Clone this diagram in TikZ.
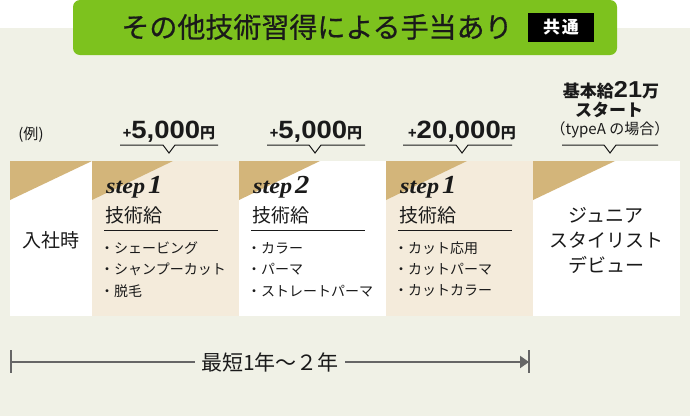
\documentclass[tikz,border=0pt]{standalone}
\usepackage{fontspec}
\setmainfont{Noto Sans CJK JP}
\newfontfamily\numfont[FakeStretch=1.1]{Liberation Sans}
\newfontfamily\stepfont[FakeStretch=1.1]{Liberation Serif}
\newfontfamily\titlefont[FakeBold=0.6]{Noto Sans CJK JP}
\usetikzlibrary{arrows.meta}
\definecolor{bgcol}{HTML}{F0F1E6}
\definecolor{leaf}{HTML}{7DC21E}
\definecolor{sand}{HTML}{D3B57A}
\definecolor{cream}{HTML}{F4EBDB}
\definecolor{ink}{HTML}{1A1A1A}
\definecolor{slate}{HTML}{666666}
\tikzset{
    panel/.style={rectangle, anchor=north west, inner sep=0pt, outer sep=0pt, minimum height=155pt},
    wedge/.style={fill=sand},
    head/.style={inner sep=0pt, text=ink, font=\fontsize{19}{19}\selectfont},
    item/.style={inner sep=0pt, anchor=west, text=ink, font=\fontsize{14}{14}\selectfont},
    steplabel/.style={inner sep=0pt, anchor=base west, text=ink},
    amount/.style={inner sep=0pt, anchor=base, text=ink},
    rule/.style={draw=ink, line width=1pt},
    timeline/.style={draw=slate, line width=2pt},
    tick/.style={draw=slate, line width=1.5pt},
}
\newcommand{\stepmark}[1]{{\stepfont\bfseries\itshape\fontsize{22}{22}\selectfont step\hspace{3pt}\fontsize{26}{26}\selectfont #1}}
\newcommand{\yenamount}[1]{{\bfseries\fontsize{14}{14}\selectfont +}{\numfont\bfseries\fontsize{25}{25}\selectfont #1}{\bfseries\fontsize{15}{15}\selectfont 円}}

\begin{document}
\begin{tikzpicture}[x=1pt, y=-1pt]
    \useasboundingbox (0,0) rectangle (690,416);
    \fill[white] (0,0) rectangle (690,28);
    \fill[bgcol] (0,28) rectangle (690,416);
    \fill[leaf, rounded corners=7pt] (73,0) rectangle (617,55);
    \node[inner sep=0pt, text=ink, font=\titlefont\fontsize{28}{28}\selectfont] (title) at (317,27) {その他技術習得による手当あり};
    \node[fill=black, text=white, font=\bfseries\fontsize{17}{17}\selectfont, minimum width=66pt, minimum height=29pt, inner sep=0pt] (common) at (561,27.5) {共\hspace{2pt}通};

    \node[inner sep=0pt, text=ink, font=\fontsize{15}{15}\selectfont] (example) at (31,135) {(例)};
    \node[amount] (bonus1) at (169,138) {\yenamount{5,000}};
    \node[amount] (bonus2) at (316,138) {\yenamount{5,000}};
    \node[amount] (bonus3) at (462,138) {\yenamount{20,000}};
    \node[amount, font=\bfseries\fontsize{17}{17}\selectfont] (basepay) at (611,97) {基本給{\numfont\fontsize{23}{23}\selectfont 21}万};
    \node[amount, font=\bfseries\fontsize{17}{17}\selectfont] (start) at (609,116) {スタート};
    \node[amount, font=\fontsize{15}{15}\selectfont] (note) at (610,134) {（typeA の場合）};
    \draw[rule] (120,145) -- (163,145) -- (169,153) -- (175,145) -- (218,145);
    \draw[rule] (267,145) -- (309,145) -- (315,153) -- (321,145) -- (365,145);
    \draw[rule] (403,145) -- (456,145) -- (462,153) -- (468,145) -- (512,145);
    \draw[rule] (562,145) -- (604,145) -- (610,153) -- (616,145) -- (658,145);

    \node[panel, fill=white, minimum width=82pt] (entry) at (10,161) {};
    \node[panel, fill=cream, minimum width=147pt] (tech1) at (92,161) {};
    \node[panel, fill=white, minimum width=147pt] (tech2) at (239,161) {};
    \node[panel, fill=cream, minimum width=147pt] (tech3) at (386,161) {};
    \node[panel, fill=white, minimum width=147pt] (debut) at (533,161) {};
    \fill[wedge] (entry.north west) -- ++(82,0) -- ++(-82,39) -- cycle;
    \fill[wedge] (tech1.north west) -- ++(81,0) -- ++(-81,39) -- cycle;
    \fill[wedge] (tech2.north west) -- ++(81,0) -- ++(-81,39) -- cycle;
    \fill[wedge] (tech3.north west) -- ++(81,0) -- ++(-81,39) -- cycle;
    \fill[wedge] (debut.north west) -- ++(82,0) -- ++(-82,39) -- cycle;

    \node[head] (entry-label) at (51,240) {入社時};

    \node[steplabel] (tech1-step) at (106,193) {\stepmark{1}};
    \node[head, anchor=west] (tech1-head) at (105,215) {技術給};
    \draw[rule] (104,230) -- (218,230);
    \node[item] (tech1-a) at (100,248) {・シェービング};
    \node[item] (tech1-b) at (100,269.5) {・シャンプーカット};
    \node[item] (tech1-c) at (100,291) {・脱毛};

    \node[steplabel] (tech2-step) at (253,193) {\stepmark{2}};
    \node[head, anchor=west] (tech2-head) at (252,215) {技術給};
    \draw[rule] (251,230) -- (365,230);
    \node[item] (tech2-a) at (247,248) {・カラー};
    \node[item] (tech2-b) at (247,269.5) {・パーマ};
    \node[item] (tech2-c) at (247,291) {・ストレートパーマ};

    \node[steplabel] (tech3-step) at (400,193) {\stepmark{1}};
    \node[head, anchor=west] (tech3-head) at (399,215) {技術給};
    \draw[rule] (398,230) -- (512,230);
    \node[item] (tech3-a) at (394,248) {・カット応用};
    \node[item] (tech3-b) at (394,269.5) {・カットパーマ};
    \node[item] (tech3-c) at (394,291) {・カットカラー};

    \node[head, align=center, font=\fontsize{19}{25}\selectfont] (debut-label) at (606,240) {ジュニア\\スタイリスト\\デビュー};

    \coordinate (span-start) at (11,362);
    \coordinate (span-end) at (529,362);
    \node[inner xsep=6pt, text=ink, font=\fontsize{21}{21}\selectfont] (span) at (270,362) {最短1年～２年};
    \draw[timeline] (span-start) -- (span.west);
    \draw[timeline, -{Triangle[length=9pt, width=12pt]}] (span.east) -- (span-end);
    \draw[tick] (span-start) ++(0,-12) -- ++(0,23);
    \draw[tick] (span-end) ++(0,-12) -- ++(0,23);
\end{tikzpicture}
\end{document}
